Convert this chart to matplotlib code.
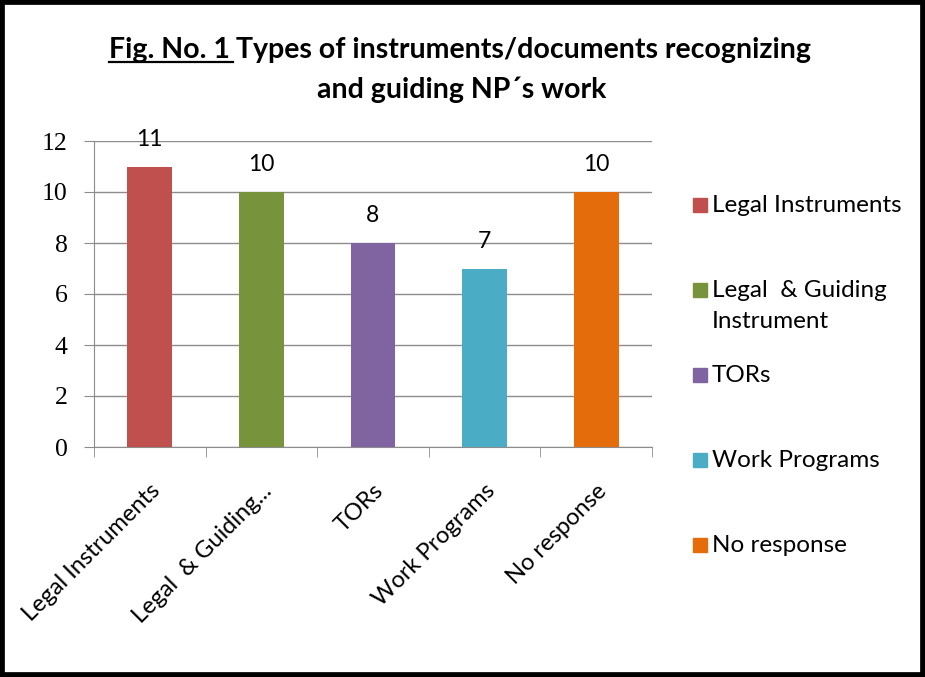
import matplotlib
matplotlib.use("Agg")
import matplotlib.pyplot as plt
from matplotlib.patches import Rectangle
from matplotlib.lines import Line2D

# --- data ---
categories = ["Legal Instruments", "Legal  & Guiding...", "TORs", "Work Programs", "No response"]
legend_labels = ["Legal Instruments", "Legal  & Guiding\nInstrument", "TORs", "Work Programs", "No response"]
counts = [11, 10, 8, 7, 10]
colors = ["#C0504D", "#77933C", "#8064A2", "#4BACC6", "#E46C0A"]
y_ticks = [0, 2, 4, 6, 8, 10, 12]

FONT = "Lato"
W, H = 925, 677

fig = plt.figure(figsize=(W / 100, H / 100), dpi=100)
ax = fig.add_axes([94 / W, 1 - 447 / H, (652 - 94) / W, (447 - 141) / H])

# --- bars ---
x = list(range(len(categories)))
bars = ax.bar(x, counts, width=0.4, color=colors, zorder=3)
for b, v in zip(bars, counts):
    ax.annotate(str(v), (b.get_x() + b.get_width() / 2, v), xytext=(0, 12),
                textcoords="offset points", ha="center", va="bottom",
                fontsize=16.5, family=FONT)

# --- axes styling ---
grid_col = "#8C8C8C"
ax.set_xlim(-0.5, len(categories) - 0.5)
ax.set_ylim(0, 12)
ax.set_yticks(y_ticks)
ax.set_yticklabels([str(t) for t in y_ticks], family="Liberation Serif", fontsize=18.5)
ax.yaxis.grid(True, color=grid_col, linewidth=1, zorder=0)
ax.set_axisbelow(True)
for s in ["top", "right"]:
    ax.spines[s].set_visible(False)
for s in ["left", "bottom"]:
    ax.spines[s].set_color(grid_col)
ax.tick_params(axis="y", length=7, color=grid_col, pad=12)

ax.set_xticks(x)
ax.set_xticklabels(categories, rotation=45, ha="right", rotation_mode="anchor",
                   family=FONT, fontsize=17)
ax.tick_params(axis="x", which="major", length=0, pad=24)
ax.set_xticks([i - 0.5 for i in range(len(categories) + 1)], minor=True)
ax.tick_params(axis="x", which="minor", length=7, color=grid_col)

# --- legend (entries spaced evenly, marker on first line) ---
leg_top = 1 - 205 / H
step = 85 / H
for i, (lab, c) in enumerate(zip(legend_labels, colors)):
    yy = leg_top - i * step
    fig.patches.append(Rectangle((693 / W, yy - 7 / H), 14 / W, 14 / H,
                                 transform=fig.transFigure, color=c))
    fig.text(712 / W, yy + 10 / H, lab, ha="left", va="top", family=FONT,
             fontsize=17.5, linespacing=1.6)

# --- title, first part underlined ---
y1 = 1 - 58 / H
t1 = fig.text(0, y1, "Fig. No. 1 ", family=FONT, fontsize=20.5, fontweight="bold", va="baseline")
t2 = fig.text(0, y1, "Types of instruments/documents recognizing", family=FONT,
              fontsize=20.5, fontweight="bold", va="baseline")
fig.text(462 / W, 1 - 98 / H, "and guiding NP\u00b4s work", family=FONT, fontsize=20.5,
         fontweight="bold", ha="center", va="baseline")
r = fig.canvas.get_renderer()
w1 = t1.get_window_extent(r).width
w2 = t2.get_window_extent(r).width
x0 = 460 - (w1 + w2) / 2
t1.set_x(x0 / W)
t2.set_x((x0 + w1) / W)
fig.lines.append(Line2D([x0 / W, (x0 + w1 - 3) / W], [y1 - 4 / H, y1 - 4 / H],
                        transform=fig.transFigure, color="black", linewidth=1.6))

# --- frame around picture ---
fig.patches.append(Rectangle((0, 0), 1, 1, transform=fig.transFigure, fill=False,
                             edgecolor="black", linewidth=7))

fig.savefig("out.png", dpi=100)
